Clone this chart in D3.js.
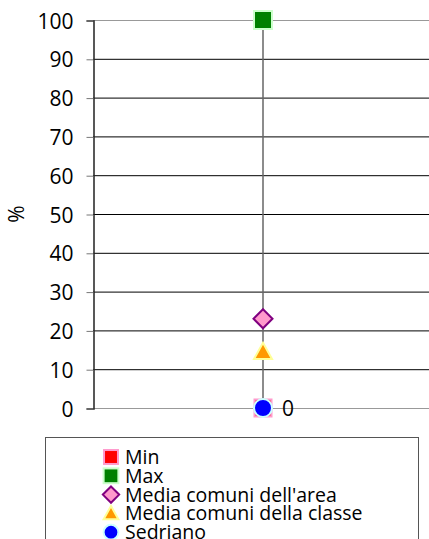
<!DOCTYPE html>
<html>
<meta charset="utf-8">
<head>
<style>
  body { margin: 0; background: #fff; }
  text { font-family: "Comic Sans MS", "Open Sans", sans-serif; fill: #000; }
</style>
</head>
<body>
<script src="https://cdn.jsdelivr.net/npm/d3@7"></script>
<script>

var yTicks = [0, 10, 20, 30, 40, 50, 60, 70, 80, 90, 100];
var seriesNames = ["Min", "Max", "Media comuni dell'area", "Media comuni della classe", "Sedriano"];
var seriesValues = [0, 100, 23, 14.5, 0];
var category = ["Sedriano"];

var width = 429, height = 539;

var svg = d3.select("body").append("svg")
    .attr("width", width)
    .attr("height", height);

var y = d3.scaleLinear().domain([0, 100]).range([408, 20]);
var x = d3.scalePoint().domain(category).range([93, 433]).padding(0.5);

// gridlines
svg.append("g").selectAll("line")
    .data(yTicks)
  .enter().append("line")
    .attr("x1", 93).attr("x2", width)
    .attr("y1", function(d) { return y(d) + 0.5; })
    .attr("y2", function(d) { return y(d) + 0.5; })
    .style("stroke", function(d) { return (d === 0 || d === 100) ? "#999" : "#000"; })
    .style("stroke-width", 1);

// y axis
var yAxis = d3.axisLeft(y).tickValues(yTicks).tickSize(7).tickPadding(13);
var ga = svg.append("g")
    .attr("transform", "translate(93.5,0.5)")
    .call(yAxis);
ga.select(".domain").style("stroke", "#222").style("stroke-width", 1.5);
ga.selectAll(".tick line").style("stroke", "#777");
ga.selectAll(".tick text")
    .style("font-size", "21px")
    .attr("dy", "0.36em");

svg.append("text")
    .attr("transform", "translate(24,214) rotate(-90)")
    .style("text-anchor", "middle")
    .style("font-size", "21px")
    .text("%");

// vertical range line
var cx = x("Sedriano");
svg.append("line")
    .attr("x1", cx).attr("x2", cx)
    .attr("y1", y(d3.max(seriesValues)))
    .attr("y2", y(d3.min(seriesValues)))
    .style("stroke", "#666")
    .style("stroke-width", 1.5);

var styles = [
  {shape: "square", fill: "#ff0000", stroke: "#ff99cc", size: 17},
  {shape: "square", fill: "#008000", stroke: "#ccffcc", size: 18},
  {shape: "diamond", fill: "#ff99cc", stroke: "#800080", size: 15},
  {shape: "triangle", fill: "#ff9900", stroke: "#ffff99", size: 18},
  {shape: "circle", fill: "#0000ff", stroke: "#ccffff", size: 18}
];

function drawMarker(g, s, px, py, k) {
  var sz = s.size * k;
  if (s.shape === "square") {
    g.append("rect")
      .attr("x", px - sz / 2).attr("y", py - sz / 2)
      .attr("width", sz).attr("height", sz)
      .style("fill", s.fill).style("stroke", s.stroke).style("stroke-width", 2);
  } else if (s.shape === "diamond") {
    var h = sz / 2 + 2;
    g.append("path")
      .attr("d", "M" + px + "," + (py - h) + "L" + (px + h) + "," + py + "L" + px + "," + (py + h) + "L" + (px - h) + "," + py + "Z")
      .style("fill", s.fill).style("stroke", s.stroke).style("stroke-width", 2);
  } else if (s.shape === "triangle") {
    var t = sz / 2;
    g.append("path")
      .attr("d", "M" + px + "," + (py - t) + "L" + (px + t) + "," + (py + t * 0.8) + "L" + (px - t) + "," + (py + t * 0.8) + "Z")
      .style("fill", s.fill).style("stroke", s.stroke).style("stroke-width", 2);
  } else {
    g.append("circle")
      .attr("cx", px).attr("cy", py).attr("r", sz / 2)
      .style("fill", s.fill).style("stroke", s.stroke).style("stroke-width", 2);
  }
}

var gm = svg.append("g");
seriesValues.forEach(function(v, i) {
  drawMarker(gm, styles[i], cx, y(v), 1);
});

// value label for Sedriano
svg.append("text")
    .attr("x", cx + 19)
    .attr("y", y(seriesValues[4]))
    .attr("dy", "0.36em")
    .style("font-size", "21px")
    .text(seriesValues[4]);

// legend
svg.append("rect")
    .attr("x", 45.5).attr("y", 437.5)
    .attr("width", 373).attr("height", 120)
    .style("fill", "#fff").style("stroke", "#555").style("stroke-width", 1);

var lg = svg.append("g");
seriesNames.forEach(function(n, i) {
  var ly = 457 + i * 18.8;
  drawMarker(lg, styles[i], 111, ly, 0.82);
  lg.append("text")
    .attr("x", 125).attr("y", ly)
    .attr("dy", "0.36em")
    .style("font-size", "19.5px")
    .text(n);
});

</script>
</body>
</html>
